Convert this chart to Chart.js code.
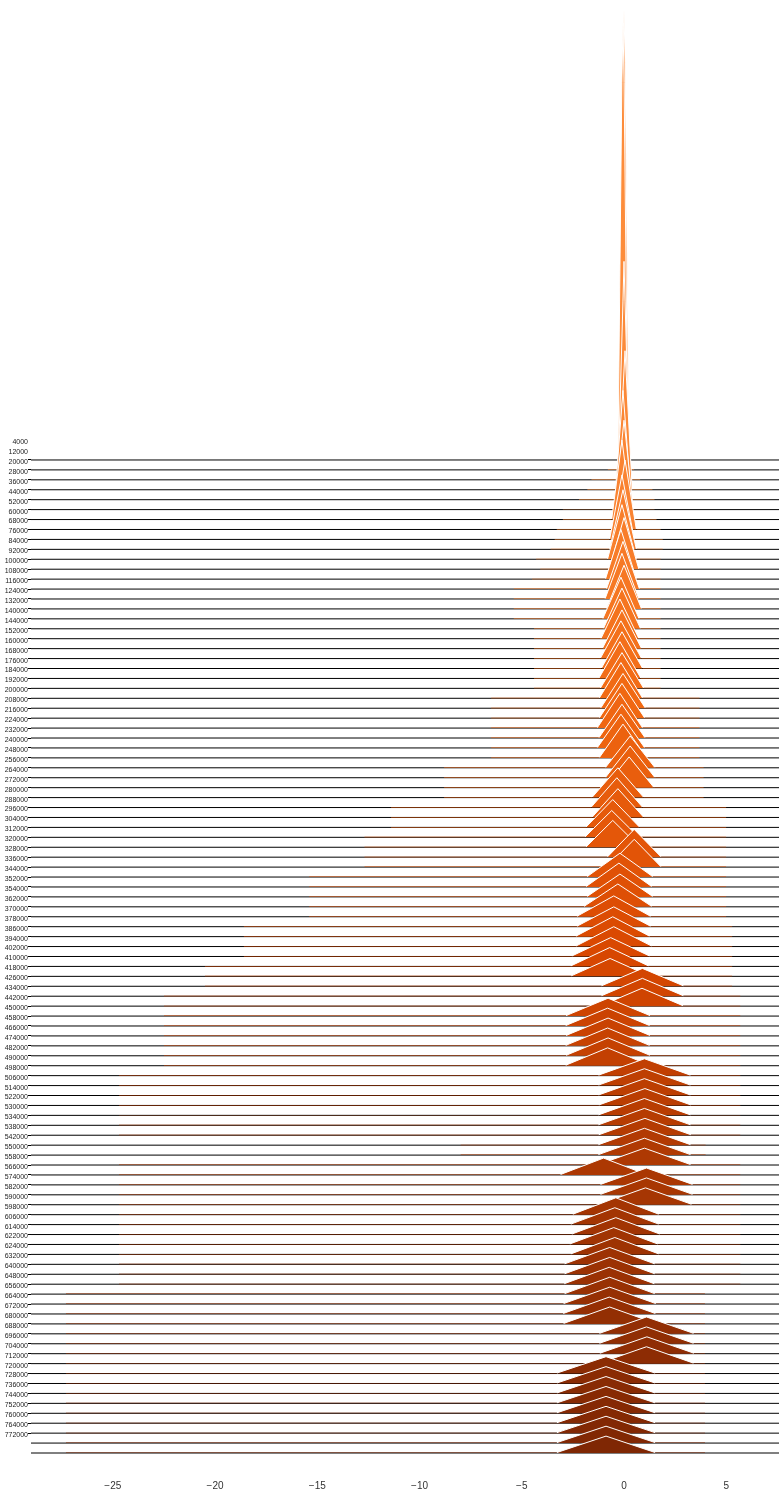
<!DOCTYPE html>
<html>
<head>
<meta charset="utf-8">
<script src="https://cdn.jsdelivr.net/npm/chart.js@4/dist/chart.umd.min.js"></script>
<style>
  html, body { margin: 0; padding: 0; background: #fff; }
  #wrap { width: 779px; height: 1492px; position: relative; }
</style>
</head>
<body>
<div id="wrap"><canvas id="ridges"></canvas></div>
<script>
// Training step of each ridge, top to bottom
const stepLabels = [
  '4000','12000','20000','28000','36000','44000','52000','60000','68000','76000',
  '84000','92000','100000','108000','116000','124000','132000','140000','144000','152000',
  '160000','168000','176000','184000','192000','200000','208000','216000','224000','232000',
  '240000','248000','256000','264000','272000','280000','288000','296000','304000','312000',
  '320000','328000','336000','344000','352000','354000','362000','370000','378000','386000',
  '394000','402000','410000','418000','426000','434000','442000','450000','458000','466000',
  '474000','482000','490000','498000','506000','514000','522000','530000','534000','538000',
  '542000','550000','558000','566000','574000','582000','590000','598000','606000','614000',
  '622000','624000','632000','640000','648000','656000','664000','672000','680000','688000',
  '696000','704000','712000','720000','728000','736000','744000','752000','760000','764000',
  '772000'
];

// Mode of each distribution (x of the peak)
const peakX = [
  0.00, -0.05, 0.00, 0.05, -0.05, 0.00, -0.10, 0.05, -0.10, -0.05,
  -0.10, 0.00, -0.15, -0.05, -0.10, 0.00, -0.15, -0.10, -0.20, -0.10,
  -0.15, -0.10, -0.20, -0.10, -0.15, -0.05, -0.10, -0.20, -0.10, -0.15,
  -0.05, 0.30, 0.30, 0.25, -0.30, -0.35, -0.30, -0.55, -0.60, -0.55,
  0.50, 0.50, -0.20, -0.25, -0.20, -0.30, -0.50, -0.50, -0.55, -0.50,
  -0.65, -0.70, -0.68, 0.90, 0.90, 0.88, -0.78, -0.80, -0.78, -0.80,
  -0.78, -0.80, 1.00, 1.00, 1.00, 1.02, 1.00, 1.00, 1.02, 1.00,
  1.00, 1.00, -1.00, 1.10, 1.10, 1.05, -0.40, -0.45, -0.40, -0.50,
  -0.45, -0.70, -0.70, -0.72, -0.70, -0.70, -0.72, -0.70, 1.10, 1.10,
  1.12, 1.10, -0.88, -0.88, -0.88, -0.88, -0.88, -0.88, -0.88, -0.88,
  -0.88
];

// Peak density, in ridge-spacing units
const peakH = [
  45.3, 45, 22, 14, 11, 9, 8, 7, 6.5, 6,
  5.5, 5.2, 5.0, 4.8, 4.6, 4.4, 4.2, 4.1, 4.0, 3.9,
  3.8, 3.7, 3.7, 3.6, 3.6, 3.5, 3.5, 3.5, 3.4, 3.4,
  3.4, 3.2, 3.2, 3.1, 3.0, 3.0, 2.9, 2.8, 2.7, 2.7,
  2.8, 2.8, 2.4, 2.4, 2.3, 2.3, 2.1, 2.0, 2.0, 2.0,
  1.9, 1.9, 1.8, 1.8, 1.8, 1.8, 1.8, 1.8, 1.8, 1.8,
  1.8, 1.8, 1.7, 1.7, 1.7, 1.7, 1.7, 1.7, 1.7, 1.7,
  1.7, 1.7, 1.7, 1.7, 1.7, 1.7, 1.7, 1.7, 1.7, 1.7,
  1.7, 1.7, 1.7, 1.7, 1.7, 1.7, 1.7, 1.7, 1.7, 1.7,
  1.7, 1.7, 1.7, 1.7, 1.7, 1.7, 1.7, 1.7, 1.7, 1.7,
  1.7
];

// Narrow column of the sharpest early distributions:
// half-width of the column and the density where it starts to taper
const shoulderW = [0.055, 0.055, 0.05];
const shoulderH = [40, 39, 18];

// Where the main body of each distribution meets the baseline
const footL = [
  -0.25, -0.30, -0.30, -0.30, -0.45, -0.45, -0.60, -0.50, -0.70, -0.70,
  -0.80, -0.72, -0.90, -0.85, -0.92, -0.85, -1.03, -1.00, -1.12, -1.05,
  -1.15, -1.10, -1.22, -1.15, -1.20, -1.13, -1.20, -1.30, -1.22, -1.30,
  -1.20, -0.90, -0.90, -0.95, -1.55, -1.60, -1.55, -1.85, -1.90, -1.85,
  -0.80, -0.80, -1.80, -1.85, -1.80, -1.95, -2.30, -2.30, -2.35, -2.35,
  -2.55, -2.60, -2.58, -1.10, -1.10, -1.12, -2.83, -2.85, -2.83, -2.85,
  -2.83, -2.85, -1.25, -1.25, -1.25, -1.23, -1.25, -1.25, -1.23, -1.25,
  -1.25, -1.25, -3.10, -1.15, -1.15, -1.20, -2.50, -2.60, -2.55, -2.65,
  -2.60, -2.90, -2.90, -2.92, -2.90, -2.95, -2.97, -2.95, -1.20, -1.20,
  -1.18, -1.20, -3.28, -3.28, -3.28, -3.28, -3.28, -3.28, -3.28, -3.28,
  -3.28
];
const footR = [
  0.25, 0.20, 0.30, 0.40, 0.35, 0.45, 0.40, 0.60, 0.50, 0.60,
  0.60, 0.72, 0.60, 0.75, 0.72, 0.85, 0.73, 0.80, 0.72, 0.85,
  0.85, 0.90, 0.82, 0.95, 0.90, 1.03, 1.00, 0.90, 1.02, 1.00,
  1.10, 1.50, 1.50, 1.45, 0.95, 0.90, 0.95, 0.75, 0.70, 0.75,
  1.80, 1.80, 1.40, 1.35, 1.40, 1.35, 1.30, 1.30, 1.25, 1.35,
  1.25, 1.20, 1.22, 2.90, 2.90, 2.88, 1.27, 1.25, 1.27, 1.25,
  1.27, 1.25, 3.25, 3.25, 3.25, 3.27, 3.25, 3.25, 3.27, 3.25,
  3.25, 3.25, 1.10, 3.35, 3.35, 3.30, 1.70, 1.70, 1.75, 1.65,
  1.70, 1.50, 1.50, 1.48, 1.50, 1.55, 1.53, 1.55, 3.40, 3.40,
  3.42, 3.40, 1.52, 1.52, 1.52, 1.52, 1.52, 1.52, 1.52, 1.52,
  1.52
];

// Smallest and largest value of each distribution (thin tails)
const tailL = [
  -0.3, -0.8, -1.6, -1.8, -2.2, -3.0, -3.0, -3.3, -3.4, -3.6,
  -4.3, -4.1, -4.5, -5.4, -5.4, -5.4, -5.4, -4.4, -4.4, -4.4,
  -4.4, -4.4, -4.4, -4.4, -6.5, -6.5, -6.5, -6.5, -6.5, -6.5,
  -6.5, -8.8, -8.8, -8.8, -8.8, -11.4, -11.4, -11.4, -12.7, -12.7,
  -12.7, -12.7, -15.4, -15.4, -15.4, -15.4, -15.4, -18.6, -18.6, -18.6,
  -18.6, -20.5, -20.5, -20.5, -22.5, -22.5, -22.5, -22.5, -22.5, -22.5,
  -22.5, -22.5, -24.7, -24.7, -24.7, -24.7, -24.7, -24.7, -24.7, -8.0,
  -8.0, -24.7, -24.7, -24.7, -24.7, -24.7, -24.7, -24.7, -24.7, -24.7,
  -24.7, -24.7, -24.7, -24.7, -27.3, -27.3, -27.3, -27.3, -27.3, -27.3,
  -27.3, -27.3, -27.3, -27.3, -27.3, -27.3, -27.3, -27.3, -27.3, -27.3,
  -27.3
];
const tailR = [
  0.3, 0.5, 0.8, 1.4, 1.5, 1.5, 1.6, 1.8, 1.9, 1.9,
  1.8, 1.8, 1.8, 1.8, 1.8, 1.8, 1.8, 1.8, 1.8, 1.8,
  1.8, 1.8, 1.8, 1.8, 3.7, 3.7, 3.7, 3.7, 3.7, 3.7,
  3.7, 3.9, 3.9, 3.9, 3.9, 5.0, 5.0, 5.0, 5.0, 5.0,
  5.0, 5.0, 5.0, 5.0, 5.0, 5.0, 5.0, 5.3, 5.3, 5.3,
  5.3, 5.3, 5.3, 5.3, 5.7, 5.7, 5.7, 5.7, 5.7, 5.7,
  5.7, 5.7, 5.7, 5.7, 5.7, 5.7, 5.7, 5.7, 5.7, 4.0,
  4.0, 5.7, 5.7, 5.7, 5.7, 5.7, 5.7, 5.7, 5.7, 5.7,
  5.7, 5.7, 5.7, 5.7, 3.96, 3.96, 3.96, 3.96, 3.96, 3.96,
  3.96, 3.96, 3.96, 3.96, 3.96, 3.96, 3.96, 3.96, 3.96, 3.96,
  3.96
];
// Density carried by the tails (barely above zero)
const tailDensity = 0.05;

// X axis ticks
const xTicks = [-25, -20, -15, -10, -5, 0, 5];

// ---- drawing ----
const X_MIN = -29.0, X_MAX = 7.58;
const N = stepLabels.length;          // 101 ridges
const BOTTOM = N - 1;                 // baseline value of the first ridge

// Oranges colour ramp
const ramp = [
  [0.0, [255,245,235]], [0.125, [254,230,206]], [0.25, [253,208,162]],
  [0.375, [253,174,107]], [0.5, [253,141,60]], [0.625, [241,105,19]],
  [0.75, [217,72,1]], [0.875, [166,54,3]], [1.0, [127,39,4]]
];
function oranges(t) {
  for (let k = 1; k < ramp.length; k++) {
    if (t <= ramp[k][0]) {
      const [t0, c0] = ramp[k - 1], [t1, c1] = ramp[k];
      const f = (t - t0) / (t1 - t0);
      const c = c0.map((v, j) => Math.round(v + (c1[j] - v) * f));
      return `rgb(${c[0]},${c[1]},${c[2]})`;
    }
  }
  return 'rgb(127,39,4)';
}

function ridgePoints(i, base) {
  const pts = [
    {x: tailL[i], y: base + tailDensity},
    {x: footL[i], y: base + tailDensity}
  ];
  if (i < shoulderW.length) pts.push({x: peakX[i] - shoulderW[i], y: base + shoulderH[i]});
  pts.push({x: peakX[i], y: base + peakH[i]});
  if (i < shoulderW.length) pts.push({x: peakX[i] + shoulderW[i], y: base + shoulderH[i]});
  pts.push({x: footR[i], y: base + tailDensity});
  pts.push({x: tailR[i], y: base + tailDensity});
  return pts;
}

const datasets = [];
for (let i = 0; i < N; i++) {
  const base = BOTTOM - i;
  // baseline of this ridge
  datasets.push({
    type: 'line',
    data: [{x: X_MIN, y: base}, {x: X_MAX, y: base}],
    borderColor: '#000',
    borderWidth: 1,
    pointRadius: 0,
    fill: false,
    order: 1000 + i
  });
  // the ridge itself: white outline on the body, none along the tails
  const pts = ridgePoints(i, base);
  const last = pts.length - 1;
  datasets.push({
    type: 'line',
    data: pts,
    backgroundColor: oranges(0.5 + 0.5 * i / (N - 1)),
    borderColor: '#fff',
    borderWidth: 1,
    borderJoinStyle: 'bevel',
    pointRadius: 0,
    fill: {value: base},
    order: N - 1 - i,
    segment: {
      borderColor: ctx => (ctx.p0DataIndex === 0 || ctx.p1DataIndex === last) ? 'rgba(0,0,0,0)' : '#fff'
    }
  });
}

const minus = v => (v < 0 ? '\u2212' + Math.abs(v) : String(v));

new Chart(document.getElementById('ridges'), {
  type: 'line',
  data: { datasets },
  options: {
    responsive: true,
    maintainAspectRatio: false,
    animation: false,
    events: [],
    layout: { padding: 0 },
    plugins: {
      legend: { display: false },
      tooltip: { enabled: false },
      filler: { drawTime: 'beforeDatasetDraw' }
    },
    scales: {
      x: {
        type: 'linear',
        min: X_MIN,
        max: X_MAX,
        afterBuildTicks: s => { s.ticks = xTicks.map(v => ({ value: v })); },
        afterFit: s => { s.height = 20; s.paddingLeft = 0; s.paddingRight = 0; },
        ticks: {
          autoSkip: false,
          maxRotation: 0,
          padding: 8,
          color: '#333',
          font: { family: "'Liberation Sans', Arial, sans-serif", size: 10 },
          callback: v => minus(v)
        },
        grid: { display: false, drawTicks: false },
        border: { display: false }
      },
      y: {
        type: 'linear',
        min: -1.913,
        max: 146.32,
        afterBuildTicks: s => { s.ticks = stepLabels.map((_, r) => ({ value: BOTTOM + 2 - r })); },
        afterFit: s => { s.width = 31; s.paddingTop = 0; s.paddingBottom = 0; },
        ticks: {
          autoSkip: false,
          padding: 0,
          labelOffset: 2,
          color: '#222',
          font: { family: "'Liberation Sans', Arial, sans-serif", size: 7 },
          callback: v => stepLabels[BOTTOM + 2 - Math.round(v)]
        },
        grid: {
          drawOnChartArea: false,
          drawTicks: true,
          tickLength: 3,
          lineWidth: 1,
          tickColor: ctx => (ctx.tick && ctx.tick.value > BOTTOM) ? 'rgba(0,0,0,0)' : '#000'
        },
        border: { display: false }
      }
    }
  }
});
</script>
</body>
</html>
